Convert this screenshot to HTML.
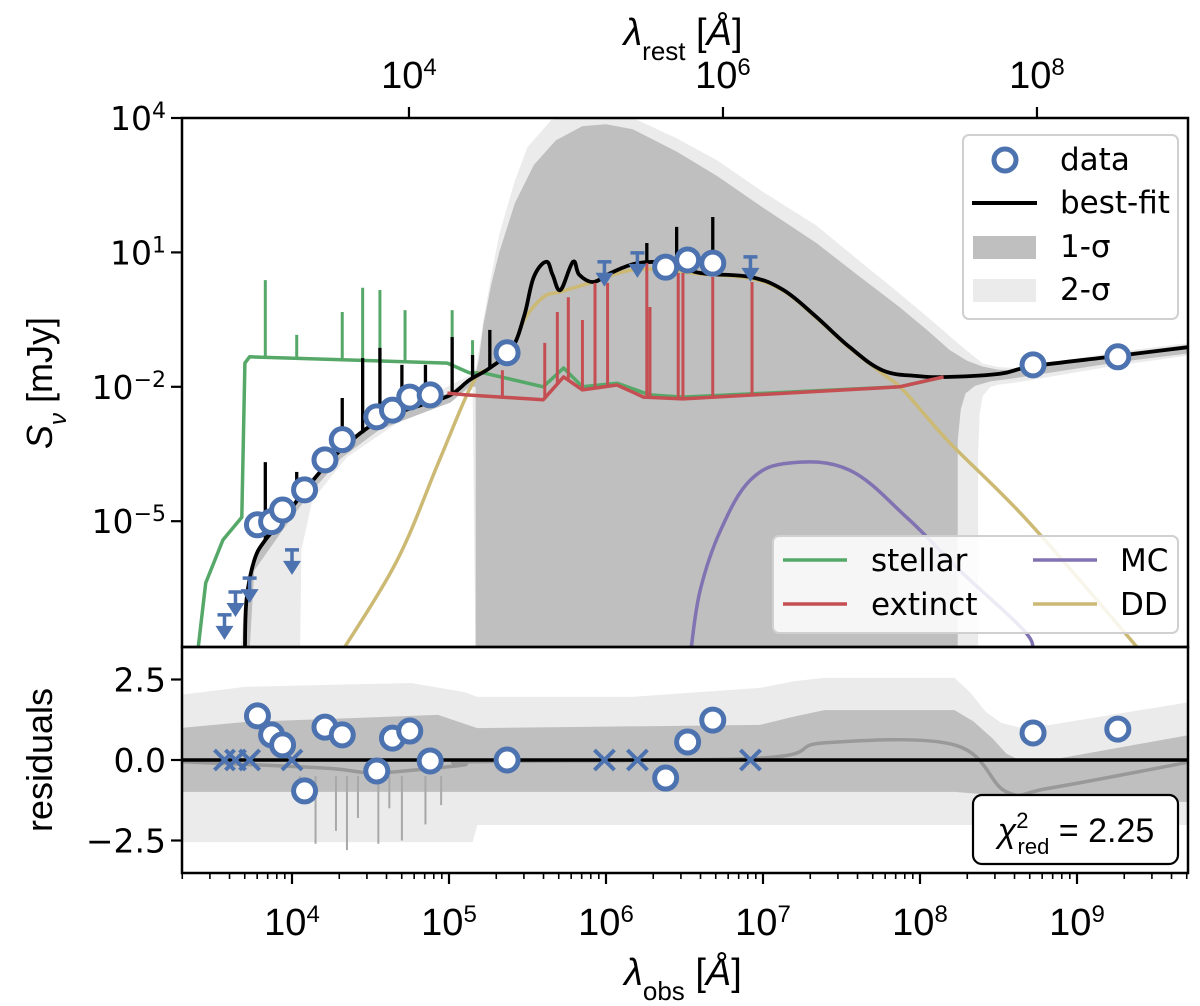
<!DOCTYPE html>
<html><head><meta charset="utf-8"><style>
body{margin:0;background:#fff}
svg text{font-family:"DejaVu Sans","Liberation Sans",sans-serif;fill:#000}
</style></head><body>
<svg id="chart" width="1200" height="1001" viewBox="0 0 1200 1001" xmlns="http://www.w3.org/2000/svg">
<defs>
<clipPath id="cMain"><rect x="182" y="118" width="1006" height="529"/></clipPath>
<clipPath id="cRes"><rect x="182" y="647" width="1006" height="226"/></clipPath>
</defs>
<g id="gMain" clip-path="url(#cMain)"></g>
<g id="gRes" clip-path="url(#cRes)"></g>
<g id="gAxes"></g>
</svg>
<script>
// ---- data (log10 lambda_obs [A], log10 S [mJy]) ----
const obsLam=[3.78,3.87,3.94,4.08,4.21,4.32,4.54,4.64,4.75,4.88,5.37,6.38,6.52,6.68,8.72,9.26];
const obsFlux=[-5.08,-5.01,-4.75,-4.30,-3.63,-3.18,-2.67,-2.52,-2.23,-2.18,-1.24,0.67,0.83,0.76,-1.51,-1.33];
const limLam=[3.57,3.64,3.73,4.0,5.99,6.20,6.92];
const limFlux=[-7.09,-6.58,-6.27,-5.64,0.79,0.99,0.90];
const resid=[1.37,0.78,0.47,-0.96,1.02,0.78,-0.34,0.68,0.90,-0.03,0.0,-0.56,0.56,1.24,0.84,0.96];
const limResid=[0,0,0,0,0,0,0];
const bestL=[3.70,3.71,3.76,3.83,3.94,4.11,4.31,4.56,4.82,5.01,5.13,5.26,5.40,5.48,5.54,5.62,5.66,5.71,5.79,5.83,5.92,6.03,6.20,6.39,6.60,6.92,7.13,7.34,7.55,7.76,7.98,8.19,8.51,8.72,9.26,9.72];
const bestS=[-7.9,-6.76,-5.87,-5.42,-4.97,-4.19,-3.41,-2.74,-2.41,-2.18,-1.85,-1.58,-1.15,-0.4,0.45,0.79,0.50,0.16,0.79,0.50,0.34,0.54,0.76,0.76,0.54,0.45,0.16,-0.44,-1.11,-1.63,-1.76,-1.78,-1.71,-1.54,-1.31,-1.11];
const bestSpikeL=[3.83,4.03,4.32,4.45,4.56,4.70,4.85,5.02,5.15,5.26,6.26,6.45,6.68];
const bestSpikeS=[-3.68,-3.90,-2.25,-1.36,-1.13,-1.51,-1.51,-0.89,-1.29,-0.73,1.21,1.57,1.79];
const stelL=[3.40,3.45,3.56,3.68,3.70,3.73,4.99,5.13,5.22,5.60,5.73,5.85,6.07,6.28,6.49,7.87,8.15];
const stelS=[-7.9,-6.38,-5.42,-4.91,-1.47,-1.33,-1.47,-1.69,-1.69,-2.00,-1.58,-2.00,-1.92,-2.18,-2.23,-2.00,-1.78];
const stelSpikeL=[3.83,4.03,4.32,4.45,4.56,4.72,5.02,5.15];
const stelSpikeS=[0.38,-0.84,-0.33,0.21,0.16,-0.29,-0.29,-0.96];
const extL=[4.99,5.11,5.60,5.73,5.85,6.07,6.24,6.49,7.87,8.15];
const extS=[-2.14,-2.18,-2.29,-1.78,-2.07,-1.96,-2.23,-2.27,-2.00,-1.78];
const extSpikeL=[5.34,5.61,5.69,5.76,5.85,5.93,6.01,6.26,6.28,6.46,6.49,6.68,6.93];
const extSpikeS=[-1.63,-1.02,-0.33,0.00,-0.51,0.32,0.32,0.76,-0.22,0.54,0.54,0.45,0.34];
const ddL=[4.32,4.67,4.94,5.15,5.26,5.40,5.48,5.60,5.71,5.90,6.20,6.60,6.92,7.13,7.34,7.55,7.76,7.90,8.19,8.68,9.29,9.40];
const ddS=[-7.9,-5.87,-3.63,-1.92,-1.58,-1.15,-0.5,0.0,0.12,0.32,0.62,0.52,0.42,0.14,-0.46,-1.13,-1.70,-2.1,-3.25,-4.97,-7.43,-7.9];
const mcL=[6.54,6.60,6.73,6.92,7.17,7.55,7.92,8.25,8.66,8.72];
const mcS=[-7.9,-6.54,-5.20,-4.08,-3.70,-3.86,-4.93,-6.09,-7.43,-7.9];
const s1L=[3.70,3.76,3.94,4.11,4.31,4.56,4.82,5.01,5.13,5.17,5.19,5.22,5.27,5.32,5.42,5.54,5.68,5.85,6.0,6.17,6.45,6.71,7.0,7.34,7.6,7.87,8.05,8.19,8.30,8.40,8.50,8.62,9.26,9.72, 9.72,9.26,8.62,8.45,8.35,8.29,8.26,8.24,8.24,5.17,5.17,5.13,5.01,4.82,4.56,4.31,4.11,3.94,3.76,3.72];
const s1S=[-6.70,-5.82,-4.92,-4.14,-3.36,-2.69,-2.36,-2.13,-1.80,-1.72,-1.4,-0.6,0.3,1.0,2.1,2.95,3.5,3.82,3.86,3.75,3.25,2.70,2.0,1.21,0.5,-0.22,-0.75,-1.18,-1.42,-1.55,-1.62,-1.63,-1.26,-1.06, -1.25,-1.45,-1.80,-1.88,-1.98,-2.15,-2.5,-3.2,-8.5,-8.5,-2.0,-2.0,-2.35,-2.6,-2.95,-3.6,-4.4,-5.2,-6.1,-8.5];
const s2L=[3.66,3.70,3.76,3.94,4.31,4.82,5.13,5.17,5.19,5.22,5.27,5.32,5.42,5.50,5.65,5.85,6.0,6.17,6.45,6.71,7.0,7.34,7.6,7.87,8.05,8.19,8.30,8.40,8.50,8.62,9.26,9.72, 9.72,9.26,8.62,8.50,8.45,8.40,8.38,8.37,8.37,5.17,5.15,4.99,4.67,4.35,4.13,4.06,4.05];
const s2S=[-8.5,-6.65,-5.75,-4.85,-3.30,-2.30,-1.75,-1.60,-1.2,-0.5,0.5,1.4,2.6,3.35,3.95,4.15,4.15,4.0,3.55,3.05,2.35,1.60,0.85,0.08,-0.45,-0.87,-1.2,-1.48,-1.56,-1.58,-1.22,-1.02, -1.30,-1.52,-1.90,-1.95,-2.0,-2.2,-2.6,-3.5,-8.5,-8.5,-2.07,-2.23,-2.81,-3.57,-4.53,-5.64,-8.5];
const r2L=[3.28,3.70,4.76,5.10,5.18,6.16,6.98,7.2,7.39,8.22,8.32,8.42,8.52,8.63,8.83,9.72, 9.72,5.18,5.15,3.28];
const r2S=[2.02,2.27,2.39,2.11,1.96,1.96,2.24,2.45,2.55,2.55,2.1,1.49,1.15,1.02,1.09,1.80, -2.02,-2.02,-2.55,-2.55];
const r1L=[3.28,3.70,4.93,5.18,6.98,7.2,7.39,8.22,8.34,8.46,8.55,8.63,8.83,9.72, 9.72,8.60,8.50,8.22,5.18,3.28];
const r1S=[0.99,1.18,1.40,0.99,1.09,1.35,1.55,1.55,1.2,0.68,0.2,0.0,0.0,0.78, -1.30,-1.30,-1.1,-0.99,-0.99,-0.99];
const medL=[3.28,4.20,4.50,4.80,5.10,5.18,6.98,7.39,8.22,8.55,8.83,9.72];
const medS=[-0.05,-0.25,-0.40,-0.30,-0.15,-0.05,0.06,0.53,0.47,-0.99,-0.87,-0.06];
const resSpikeL=[4.05,4.15,4.28,4.35,4.42,4.55,4.62,4.70,4.85,4.95];
const resSpikeS=[-1.3,-2.6,-2.2,-2.8,-1.8,-2.6,-1.5,-2.5,-2.0,-1.4];
const botTicks=[4,5,6,7,8,9];
const botTickLabels=["4","5","6","7","8","9"];
const topTicks=[4,6,8];
const topTickLabels=["4","6","8"];
const zRest=0.745; // log10(1+z)
const yTicks=[4,1,-2,-5];
const yTickLabels=["4","1","\u22122","\u22125"];
const rTicks=[2.5,0,-2.5];
const rTickLabels=["2.5","0.0","\u22122.5"];

// ---- scales ----
const X=L=>292+(L-4)*157;
const Y=S=>118+(4-S)*44.8;
const R=r=>760-r*32.2;
const NS="http://www.w3.org/2000/svg";
function mk(tag,attrs,parent){const e=document.createElementNS(NS,tag);for(const k in attrs)e.setAttribute(k,attrs[k]);parent.appendChild(e);return e;}
function interp(xs,ys,v){for(let i=0;i<xs.length-1;i++){if(v>=xs[i]&&v<=xs[i+1]){const t=(v-xs[i])/(xs[i+1]-xs[i]);return ys[i]+t*(ys[i+1]-ys[i]);}}return ys[ys.length-1];}
const gM=document.getElementById('gMain'),gR=document.getElementById('gRes'),gA=document.getElementById('gAxes');
function path(xs,ys,fx,fy,close){return xs.map((v,i)=>(i?'L':'M')+fx(v).toFixed(1)+' '+fy(ys[i]).toFixed(1)).join(' ')+(close?' Z':'');}
function spath(xs,ys,fx,fy,close){
  const p=xs.map((v,i)=>[fx(v),fy(ys[i])]);const n=p.length;
  let d='M'+p[0][0].toFixed(1)+' '+p[0][1].toFixed(1);
  for(let i=0;i<n-1;i++){
    const p0=p[Math.max(0,i-1)],p1=p[i],p2=p[i+1],p3=p[Math.min(n-1,i+2)];
    const t=0.18;
    const c1=[p1[0]+(p2[0]-p0[0])*t,p1[1]+(p2[1]-p0[1])*t];
    const c2=[p2[0]-(p3[0]-p1[0])*t,p2[1]-(p3[1]-p1[1])*t];
    d+=` C${c1[0].toFixed(1)} ${c1[1].toFixed(1)} ${c2[0].toFixed(1)} ${c2[1].toFixed(1)} ${p2[0].toFixed(1)} ${p2[1].toFixed(1)}`;
  }
  return d+(close?' Z':'');
}

// bands main
let e;
e=mk('path',{d:path(s2L,s2S,X,Y,true),fill:'#ebebeb'},gM);


e=mk('path',{d:path(s1L,s1S,X,Y,true),fill:'#bfbfbf'},gM);


function curve(L,S,spL,spS,color,w,name,smooth){
  const g=mk('g',{},gM);
  
  
  mk('path',{d:(smooth?spath:path)(L,S,X,Y,false),fill:'none',stroke:color,'stroke-width':w,'stroke-linejoin':'round'},g);
  if(spL){spL.forEach((l,i)=>{const b=interp(L,S,l);mk('line',{x1:X(l),x2:X(l),y1:Y(b),y2:Y(spS[i]),stroke:color,'stroke-width':w-0.5},g);});}
}
curve(stelL,stelS,stelSpikeL,stelSpikeS,'#55a868',3.5,'stellar-curve',false);
curve(ddL,ddS,null,null,'#ccb974',3.5,'dd-curve',true);
curve(bestL,bestS,bestSpikeL,bestSpikeS,'#000',3.8,'best-fit-curve',true);
curve(extL,extS,extSpikeL,extSpikeS,'#c44e52',3.5,'extinct-curve',false);
curve(mcL,mcS,null,null,'#8172b2',3.5,'mc-curve',true);
// upper limits
limLam.forEach((l,i)=>{const x=X(l),y=Y(limFlux[i]);const g=mk('g',{fill:'#4c72b0',stroke:'#4c72b0'},gM);
  
  
  mk('line',{x1:x-7,x2:x+7,y1:y,y2:y,'stroke-width':3.5},g);
  mk('line',{x1:x,x2:x,y1:y,y2:y+14,'stroke-width':3.5},g);
  mk('path',{d:`M${x-9} ${y+11} L${x+9} ${y+11} L${x} ${y+25} Z`,stroke:'none'},g);});
obsLam.forEach((l,i)=>{e=mk('circle',{cx:X(l),cy:Y(obsFlux[i]),r:11,fill:'#fff',stroke:'#4c72b0','stroke-width':5},gM);
  
  });

// residual panel
e=mk('path',{d:path(r2L,r2S,X,R,true),fill:'#ebebeb'},gR);


e=mk('path',{d:path(r1L,r1S,X,R,true),fill:'#bfbfbf'},gR);


resSpikeL.forEach((l,i)=>{mk('line',{x1:X(l),x2:X(l),y1:R(-0.5),y2:R(resSpikeS[i]),stroke:'#a8a8a8','stroke-width':2},gR);});
e=mk('path',{d:spath(medL,medS,X,R,false),fill:'none',stroke:'#999','stroke-width':3.5},gR);


e=mk('line',{x1:182,x2:1188,y1:R(0),y2:R(0),stroke:'#000','stroke-width':3.5},gR);


limLam.forEach((l,i)=>{const x=X(l),y=R(limResid[i]);const g=mk('g',{stroke:'#4c72b0','stroke-width':4},gR);
  
  
  mk('line',{x1:x-10,x2:x+10,y1:y-10,y2:y+10},g);mk('line',{x1:x-10,x2:x+10,y1:y+10,y2:y-10},g);});
obsLam.forEach((l,i)=>{e=mk('circle',{cx:X(l),cy:R(resid[i]),r:11,fill:'#fff',stroke:'#4c72b0','stroke-width':5},gR);
  
  });

// axes frames
mk('rect',{x:182,y:118,width:1006,height:529,fill:'none',stroke:'#000','stroke-width':2.5},gA);
mk('rect',{x:182,y:647,width:1006,height:226,fill:'none',stroke:'#000','stroke-width':2.5},gA);
function txt(x,y,parts,size,anchor,name,fam){const t=mk('text',{x:x,y:y,'font-size':size,'text-anchor':anchor||'middle'},gA);
  if(fam)t.setAttribute('style','font-family:'+fam);
  
  
  parts.forEach(p=>{const s=mk('tspan',{},t);s.textContent=p[0];if(p[1])s.setAttribute('baseline-shift',p[1]);if(p[2])s.setAttribute('font-size',p[2]);if(p[3])s.setAttribute('font-style',p[3]);});return t;}
// bottom ticks
for(let d=3;d<=9;d++){for(let m=1;m<10;m++){const l=d+Math.log10(m);if(l<3.286||l>9.72)continue;const x=X(l);
  mk('line',{x1:x,x2:x,y1:873,y2:873+(m==1?11:6),stroke:'#000','stroke-width':m==1?2.2:1.6},gA);}}
botTicks.forEach((t,i)=>txt(X(t),935,[["10"],[botTickLabels[i],"super","24"]],38,'middle','x-tick-label',"'Liberation Sans Narrow','Liberation Sans',sans-serif"));
topTicks.forEach((t,i)=>{const x=X(t+zRest);mk('line',{x1:x,x2:x,y1:118,y2:107,stroke:'#000','stroke-width':2.2},gA);
  txt(x,88,[["10"],[topTickLabels[i],"super","24"]],38,'middle','top-tick-label',"'Liberation Sans Narrow','Liberation Sans',sans-serif");});
yTicks.forEach((t,i)=>{const y=Y(t);mk('line',{x1:182,x2:171,y1:y,y2:y,stroke:'#000','stroke-width':2.2},gA);
  txt(166,y+12,[["10"],[yTickLabels[i],"super","22"]],33,'end','y-tick-label');});
rTicks.forEach((t,i)=>{const y=R(t);mk('line',{x1:182,x2:171,y1:y,y2:y,stroke:'#000','stroke-width':2.2},gA);
  txt(166,y+12,[[rTickLabels[i]]],33,'end','residual-tick-label');});
// axis titles
txt(683,985,[["λ","","","italic"],["obs","sub","26"],[" [","",""],["Å","","","italic"],["]"]],38,'middle','x-axis-title',"'Liberation Sans Narrow','Liberation Sans',sans-serif");
txt(683,45,[["λ","","","italic"],["rest","sub","26"],[" [","",""],["Å","","","italic"],["]"]],38,'middle','top-axis-title',"'Liberation Sans Narrow','Liberation Sans',sans-serif");
let ty=txt(0,0,[["S","","","italic"],["ν","sub","24","italic"],[" [mJy]"]],36,'middle','y-axis-title',"'Liberation Sans Narrow','Liberation Sans',sans-serif");
ty.setAttribute('transform','translate(52,383) rotate(-90)');
ty=txt(0,0,[["residuals"]],36,'middle','residual-axis-title',"'Liberation Sans Narrow','Liberation Sans',sans-serif");
ty.setAttribute('transform','translate(52,760) rotate(-90)');
// legend 1
const lg=mk('g',{},gA);


mk('rect',{x:963,y:135,width:215,height:184,rx:6,fill:'#fff','fill-opacity':0.85,stroke:'#d0d0d0','stroke-width':2},lg);
mk('circle',{cx:1005,cy:160,r:11,fill:'#fff',stroke:'#4c72b0','stroke-width':5},lg);
mk('line',{x1:972,x2:1037,y1:203,y2:203,stroke:'#000','stroke-width':4},lg);
mk('rect',{x:973,y:236,width:63,height:23,fill:'#bfbfbf'},lg);
mk('rect',{x:973,y:279,width:63,height:23,fill:'#ebebeb'},lg);
[["data",170],["best-fit",213],["1-σ",257],["2-σ",300]].forEach(p=>{const t=mk('text',{x:1060,y:p[1],'font-size':31},lg);t.textContent=p[0];
  
  });
// legend 2
const lg2=mk('g',{},gA);


mk('rect',{x:773,y:536,width:405,height:97,rx:6,fill:'#fff','fill-opacity':0.85,stroke:'#d0d0d0','stroke-width':2},lg2);
[[783,560,'#55a868','stellar',871],[783,604,'#c44e52','extinct',871],[1033,560,'#8172b2','MC',1120],[1033,604,'#ccb974','DD',1120]].forEach(p=>{
  mk('line',{x1:p[0],x2:p[0]+64,y1:p[1],y2:p[1],stroke:p[2],'stroke-width':3.5},lg2);
  const t=mk('text',{x:p[4],y:p[1]+11,'font-size':31},lg2);t.textContent=p[3];
  
  });
// chi box
const cb=mk('g',{},gA);


mk('rect',{x:973,y:795,width:205,height:69,rx:9,fill:'#fff',stroke:'#000','stroke-width':2.2},cb);
const ct=mk('text',{x:1076,y:842,'font-size':34,'text-anchor':'middle',style:"font-family:'Liberation Sans Narrow','Liberation Sans',sans-serif"},cb);


ct.innerHTML='<tspan font-style="italic">χ</tspan><tspan font-size="22" dy="-14">2</tspan><tspan font-size="22" dx="-11" dy="26">red</tspan><tspan dy="-12"> = 2.25</tspan>';
</script>
</body></html>
